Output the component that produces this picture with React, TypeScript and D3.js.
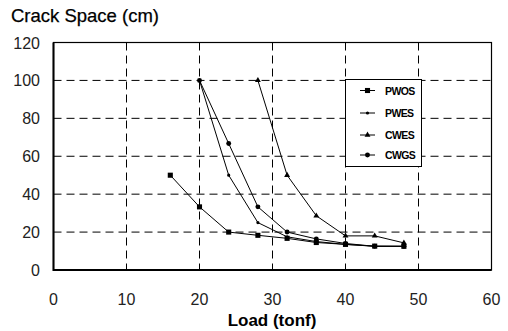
import React, { useEffect, useRef } from 'react';
import * as d3 from 'd3';

// Load (tonf) values and crack spacing (cm) per specimen
const pwosLoad = [16, 20, 24, 28, 32, 36, 40, 44, 48];
const pwosSpace = [50, 33.3, 20, 18.3, 16.7, 14.5, 13.5, 12.6, 12.5];
const pwesLoad = [20, 24, 28, 32, 36, 40, 44, 48];
const pwesSpace = [100, 50, 25, 17.5, 15, 13.5, 12.5, 12.5];
const cwesLoad = [28, 32, 36, 40, 44, 48];
const cwesSpace = [100, 50, 28.6, 18, 18, 14.3];
const cwgsLoad = [20, 24, 28, 32, 36, 40, 44, 48];
const cwgsSpace = [100, 66.7, 33.3, 20, 16.4, 14, 12.5, 12.5];

const seriesNames = ['PWOS', 'PWES', 'CWES', 'CWGS'];
const markerTypes = ['square', 'diamond', 'triangle', 'circle'];

const xTicks = [0, 10, 20, 30, 40, 50, 60];
const yTicks = [0, 20, 40, 60, 80, 100, 120];

const App = () => {
  const ref = useRef<SVGSVGElement>(null);

  useEffect(() => {
    const svg = d3.select(ref.current);
    svg.selectAll('*').remove();

    const margin = { top: 42.5, left: 53.5, right: 16.5, bottom: 61 };
    const W = 508, H = 331;
    const x = d3.scaleLinear().domain([0, 60]).range([margin.left, W - margin.right]);
    const y = d3.scaleLinear().domain([0, 120]).range([H - margin.bottom, margin.top]);

    const font = '"Liberation Sans", Arial, sans-serif';

    // grid
    const grid = svg.append('g')
      .attr('stroke', '#000')
      .attr('stroke-width', 1)
      .attr('stroke-dasharray', '8,5');
    grid.selectAll('line.v')
      .data(xTicks.slice(1, -1))
      .enter().append('line')
      .attr('x1', d => x(d)).attr('x2', d => x(d))
      .attr('y1', y(120)).attr('y2', y(0));
    grid.selectAll('line.h')
      .data(yTicks.slice(1, -1))
      .enter().append('line')
      .attr('x1', x(0)).attr('x2', x(60))
      .attr('y1', d => y(d)).attr('y2', d => y(d));

    // frame
    svg.append('rect')
      .attr('x', x(0)).attr('y', y(120))
      .attr('width', x(60) - x(0)).attr('height', y(0) - y(120))
      .attr('fill', 'none').attr('stroke', '#000').attr('stroke-width', 1.2);
    svg.append('path')
      .attr('d', `M${x(0)},${y(120)}V${y(0)}H${x(60)}`)
      .attr('fill', 'none').attr('stroke', '#000').attr('stroke-width', 2);

    // tick labels
    svg.append('g').selectAll('text')
      .data(yTicks)
      .enter().append('text')
      .attr('x', 40).attr('y', d => y(d) + 6)
      .attr('text-anchor', 'end')
      .attr('font-family', font).attr('font-size', 16).attr('fill', '#222')
      .text(d => d);
    svg.append('g').selectAll('text')
      .data(xTicks)
      .enter().append('text')
      .attr('x', d => x(d)).attr('y', 305)
      .attr('text-anchor', 'middle')
      .attr('font-family', font).attr('font-size', 16).attr('fill', '#222')
      .text(d => d);

    // titles
    svg.append('text')
      .attr('x', 11).attr('y', 22)
      .attr('font-family', font).attr('font-size', 18.5).attr('fill', '#000')
      .attr('stroke', '#000').attr('stroke-width', 0.25)
      .text('Crack Space (cm)');
    svg.append('text')
      .attr('x', 272).attr('y', 326)
      .attr('text-anchor', 'middle')
      .attr('font-family', font).attr('font-size', 17).attr('font-weight', 'bold')
      .text('Load (tonf)');

    const series = [
      { load: pwosLoad, space: pwosSpace },
      { load: pwesLoad, space: pwesSpace },
      { load: cwesLoad, space: cwesSpace },
      { load: cwgsLoad, space: cwgsSpace },
    ];

    const symbolFor = (t: string) => {
      if (t === 'square') return d3.symbol(d3.symbolSquare, 26)();
      if (t === 'diamond') return d3.symbol(d3.symbolCircle, 8)();
      if (t === 'triangle') return d3.symbol(d3.symbolTriangle, 15)();
      return d3.symbol(d3.symbolCircle, 19)();
    };

    const line = d3.line<[number, number]>()
      .x(d => x(d[0]))
      .y(d => y(d[1]));

    series.forEach((s, i) => {
      const pts: [number, number][] = s.load.map((l, j) => [l, s.space[j]]);
      svg.append('path')
        .attr('d', line(pts))
        .attr('fill', 'none').attr('stroke', '#000').attr('stroke-width', 1);
      svg.append('g').selectAll('path')
        .data(pts)
        .enter().append('path')
        .attr('transform', d => `translate(${x(d[0])},${y(d[1])})`)
        .attr('d', symbolFor(markerTypes[i]))
        .attr('fill', '#000');
    });

    // legend
    const lx = 345.5, ly = 79.5;
    const legend = svg.append('g').attr('transform', `translate(${lx},${ly})`);
    legend.append('rect')
      .attr('width', 76).attr('height', 87)
      .attr('fill', '#fff').attr('stroke', '#000').attr('stroke-width', 1);
    const rows = [11, 33.5, 55.5, 75.5];
    seriesNames.forEach((name, i) => {
      const g = legend.append('g').attr('transform', `translate(0,${rows[i]})`);
      g.append('line')
        .attr('x1', 14.5).attr('x2', 29.5)
        .attr('stroke', '#000').attr('stroke-width', 1);
      g.append('path')
        .attr('transform', 'translate(22,0)')
        .attr('d', symbolFor(markerTypes[i]))
        .attr('fill', '#000');
      g.append('text')
        .attr('x', 39.5).attr('y', 4)
        .attr('font-family', font).attr('font-size', 10.5).attr('font-weight', 'bold')
        .attr('letter-spacing', -0.6)
        .text(name);
    });
  }, []);

  return (
    <svg
      ref={ref}
      width={508}
      height={331}
      style={{ position: 'absolute', left: 0, top: 0, background: '#fff' }}
    />
  );
};

export default App;
